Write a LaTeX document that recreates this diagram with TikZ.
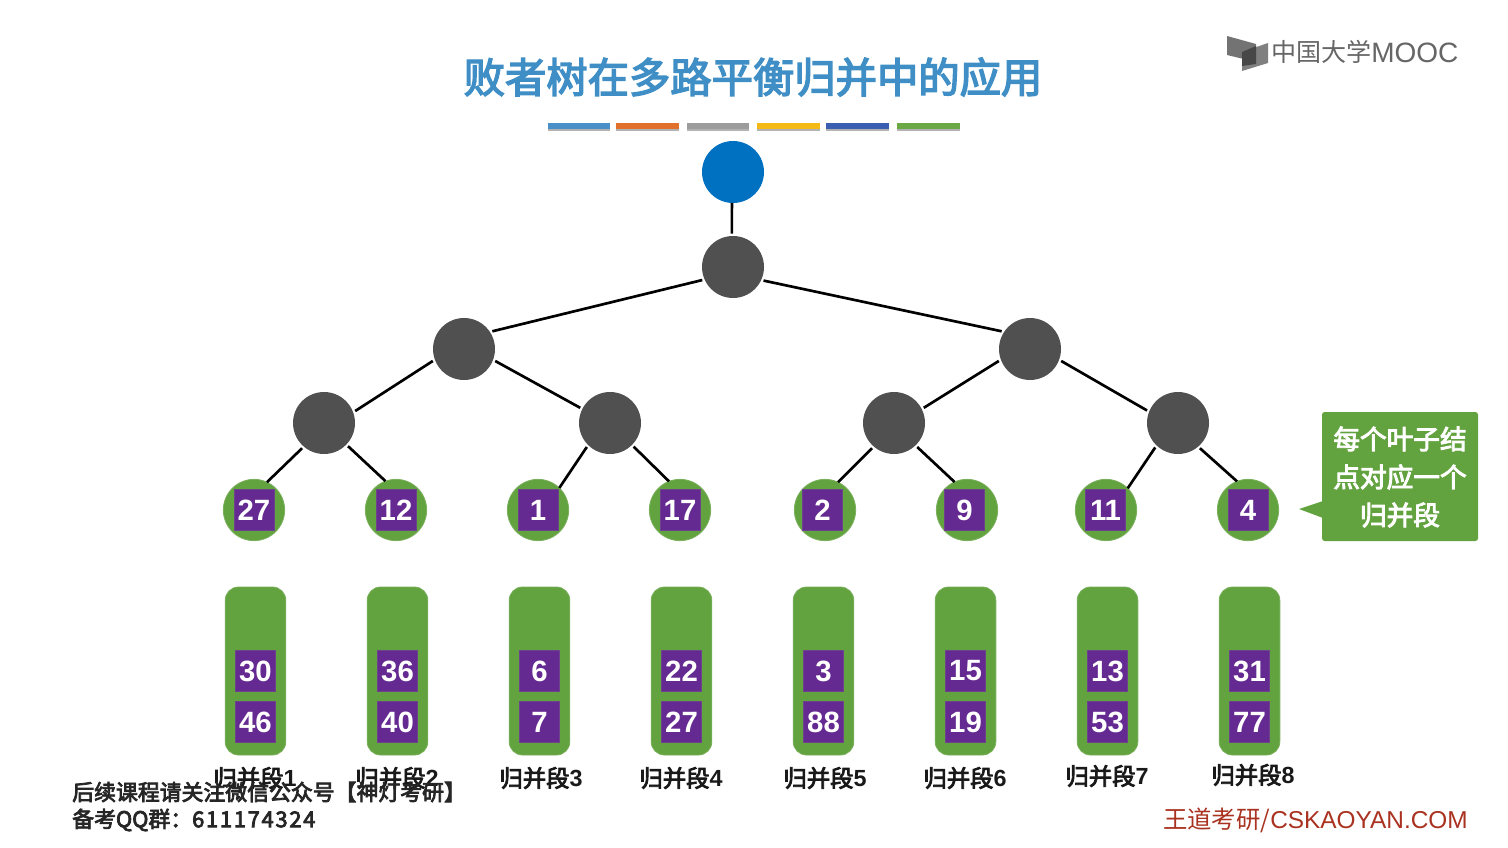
\documentclass[tikz,border=0pt]{standalone}
\usepackage{fontspec}
\setmainfont{Noto Sans CJK SC}
\newfontfamily\cjk{Noto Sans CJK SC}
\newfontfamily\cjkm[FakeBold=3.5]{Noto Sans CJK SC}
\newfontfamily\hv{Liberation Sans}
\definecolor{mgreen}{HTML}{62A23F}
\definecolor{mpurple}{HTML}{652A92}
\definecolor{mgray}{HTML}{505050}
\definecolor{mblue}{HTML}{0070C0}
\definecolor{mtitle}{HTML}{3F8FC6}
\definecolor{mred}{HTML}{A93220}
\tikzset{
  px/.style={x=0.75pt,y=-0.75pt},
  gnode/.style={circle,fill=mgray,minimum size=46.5pt,inner sep=0pt,outer sep=1.8pt},
  rootnode/.style={circle,fill=mblue,minimum size=46.5pt,inner sep=0pt,outer sep=0pt},
  leafnode/.style={circle,fill=mgreen,draw=mgreen!85!white,line width=.6pt,minimum size=46pt,inner sep=0pt,outer sep=0pt},
  bufbox/.style={rounded corners=10pt,fill=mgreen,draw=mgreen!85!white,line width=.6pt,minimum width=45.5pt,minimum height=126pt,inner sep=0pt},
  numbox/.style={fill=mpurple,draw=mpurple!70!gray,line width=.4pt,minimum width=30pt,minimum height=31pt,inner sep=0pt,text=white,font=\hv\bfseries\fontsize{22}{22}\selectfont},
  edge/.style={draw=black,line width=2pt},
  seglabel/.style={inner sep=0pt,text=black!90,font=\cjkm\fontsize{17.5}{20}\selectfont},
  bar/.style={minimum height=5.2pt,minimum width=47pt,inner sep=0pt},
  barshade/.style={minimum height=5.2pt,minimum width=47pt,inner sep=0pt,fill=black!30},
  foot/.style={inner sep=0pt,anchor=west,text=black!85},
}
\begin{document}
\begin{tikzpicture}[px]
\useasboundingbox[fill=white] (0,0) rectangle (1508,848);
% title
\node[inner sep=0pt,text=mtitle,font=\cjkm\fontsize{31}{36}\selectfont] (title) at (753,77) {败者树在多路平衡归并中的应用};
% bars
\foreach \n/\x/\c in {b1/579/4A90C8,b2/647.5/E0702A,b3/718/9C9C9C,b4/788.5/F5B915,b5/857.5/3A5FB0,b6/928.5/6AA843}{
  \definecolor{barc}{HTML}{\c}
  \node[barshade] (\n s) at (\x,127.5) {};
  \node[bar,fill=barc] (\n) at (\x,126) {};
}
% logo
\fill[black!55] (1227,36) -- (1256,44) -- (1256,62) -- (1227,55) -- cycle;
\fill[black!50] (1242,52) -- (1268,43) -- (1268,63) -- (1242,71) -- cycle;
\fill[black!72] (1242,52) -- (1256,46) -- (1256,64) -- (1242,66) -- cycle;
\node[inner sep=0pt,anchor=west,text=black!60,font=\cjk\fontsize{18.8}{20}\selectfont] (logocn) at (1271,52) {中国大学};
\node[inner sep=0pt,anchor=west,text=black!60,font=\hv\fontsize{21}{20}\selectfont] (logoen) at (1371,53) {MOOC};
% tree
\node[rootnode] (r) at (733,172) {};
\node[gnode] (n) at (733,267) {};
\node[gnode] (a) at (464,349) {};
\node[gnode] (b) at (1030,349) {};
\node[gnode] (c) at (324,423) {};
\node[gnode] (d) at (610,423) {};
\node[gnode] (e) at (894,423) {};
\node[gnode] (f) at (1178,423) {};
\foreach \n/\x/\bx/\t in {l1/254/254/27,l2/396/396/12,l3/538/538/1,l4/680/680/17,l5/825/822.5/2,l6/967/964.5/9,l7/1106/1105.5/11,l8/1248/1248/4}{
  \node[leafnode] (\n) at (\x,510) {};
  \node[numbox] (\n t) at (\bx,510) {\t};
}
\draw[edge] (r.-92) -- (n.92);
\draw[edge] (n.203) -- (a.32);
\draw[edge] (n.-24) -- (b.148);
\draw[edge] (a.201) -- (c.21);
\draw[edge] (a.-21) -- (d.153);
\draw[edge] (b.201) -- (e.27);
\draw[edge] (b.-21) -- (f.158);
\draw[edge] (c.229) -- (l1.65);
\draw[edge] (c.-44) -- (l2.110);
\draw[edge] (d.226) -- (l3.46);
\draw[edge] (d.-45) -- (l4.111);
\draw[edge] (e.229) -- (l5.65);
\draw[edge] (e.-46) -- (l6.114);
\draw[edge] (f.227) -- (l7.45);
\draw[edge] (f.-49) -- (l8.111);
% buffers
\foreach \n/\x/\p/\q/\lx/\ly/\s in {1/255.5/30/46/255/778/1,2/397.5/36/40/397/778/2,3/539.5/6/7/541/778/3,4/681.5/22/27/681/778/4,5/823.5/3/88/825/778/5,6/965.5/15/19/965/778/6,7/1107.5/13/53/1107/776/7,8/1249.5/31/77/1253/775/8}{
  \node[bufbox] (buf\n) at (\x,671) {};
  \node[numbox] (p\n) at (\x,671) {\p};
  \node[numbox] (q\n) at (\x,722) {\q};
  \node[seglabel] (lab\n) at (\lx,\ly) {归并段{\hv\bfseries\s}};
}
% callout
\fill[mgreen,rounded corners=2pt] (1322,412) rectangle (1478,541);
\fill[mgreen] (1323,501) -- (1299,509) -- (1323,518) -- cycle;
\node[inner sep=0pt,text=white,align=center,font=\cjkm\fontsize{20}{28.5}\selectfont] (note) at (1400,477) {每个叶子结\\点对应一个\\归并段};
% footer
\node[foot,font=\cjkm\fontsize{16.4}{18}\selectfont] (f1) at (72,792) {后续课程请关注微信公众号【神灯考研】};
\node[foot,font=\cjkm\fontsize{16.4}{18}\selectfont] (f2) at (72,820) {备考QQ群：\addfontfeatures{LetterSpace=8}611174324};
\node[inner sep=0pt,anchor=east,text=mred,font=\cjk\fontsize{18.3}{20}\selectfont] (wd) at (1468,820) {王道考研/{\hv CSKAOYAN.COM}};
\end{tikzpicture}
\end{document}
